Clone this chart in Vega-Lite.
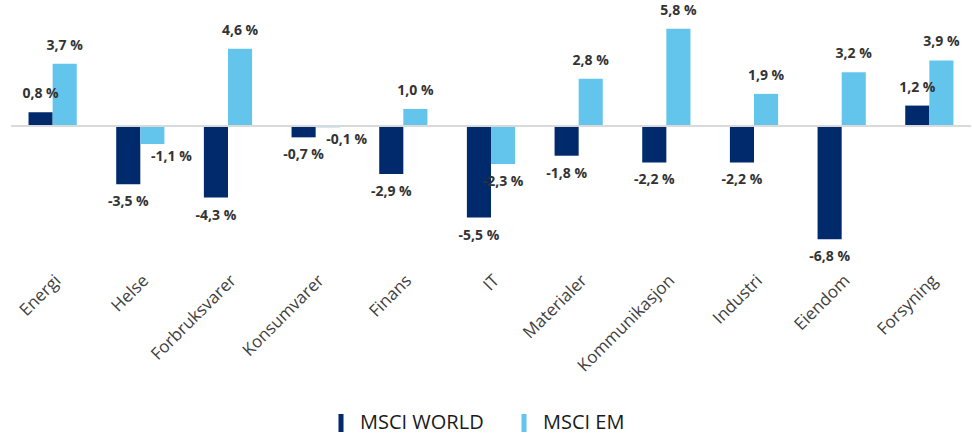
{
  "$schema": "https://vega.github.io/schema/vega-lite/v6.json",
  "autosize": "none",
  "width": 960,
  "height": 239,
  "padding": {"left": 11, "top": 17, "right": 1, "bottom": 180},
  "background": "white",
  "data": {
    "values": [
      {"sektor": "Energi", "serie": "MSCI WORLD", "verdi": 0.8},
      {"sektor": "Energi", "serie": "MSCI EM", "verdi": 3.7},
      {"sektor": "Helse", "serie": "MSCI WORLD", "verdi": -3.5},
      {"sektor": "Helse", "serie": "MSCI EM", "verdi": -1.1},
      {"sektor": "Forbruksvarer", "serie": "MSCI WORLD", "verdi": -4.3},
      {"sektor": "Forbruksvarer", "serie": "MSCI EM", "verdi": 4.6},
      {"sektor": "Konsumvarer", "serie": "MSCI WORLD", "verdi": -0.7},
      {"sektor": "Konsumvarer", "serie": "MSCI EM", "verdi": -0.1},
      {"sektor": "Finans", "serie": "MSCI WORLD", "verdi": -2.9},
      {"sektor": "Finans", "serie": "MSCI EM", "verdi": 1.0},
      {"sektor": "IT", "serie": "MSCI WORLD", "verdi": -5.5},
      {"sektor": "IT", "serie": "MSCI EM", "verdi": -2.3},
      {"sektor": "Materialer", "serie": "MSCI WORLD", "verdi": -1.8},
      {"sektor": "Materialer", "serie": "MSCI EM", "verdi": 2.8},
      {"sektor": "Kommunikasjon", "serie": "MSCI WORLD", "verdi": -2.2},
      {"sektor": "Kommunikasjon", "serie": "MSCI EM", "verdi": 5.8},
      {"sektor": "Industri", "serie": "MSCI WORLD", "verdi": -2.2},
      {"sektor": "Industri", "serie": "MSCI EM", "verdi": 1.9},
      {"sektor": "Eiendom", "serie": "MSCI WORLD", "verdi": -6.8},
      {"sektor": "Eiendom", "serie": "MSCI EM", "verdi": 3.2},
      {"sektor": "Forsyning", "serie": "MSCI WORLD", "verdi": 1.2},
      {"sektor": "Forsyning", "serie": "MSCI EM", "verdi": 3.9}
    ]
  },
  "transform": [
    {"calculate": "(datum.verdi < 0 ? '-' : '') + replace(format(abs(datum.verdi), '.1f'), '.', ',') + ' %'", "as": "etikett"}
  ],
  "encoding": {
    "x": {
      "field": "sektor",
      "type": "nominal",
      "sort": null,
      "scale": {"paddingInner": 0.45, "paddingOuter": 0.2},
      "axis": {
        "title": null,
        "labelAngle": -45,
        "labelFont": "Open Sans",
        "labelFontSize": 17,
        "labelColor": "#404040",
        "labelPadding": 16,
        "domain": false,
        "ticks": false
      }
    },
    "xOffset": {"field": "serie", "type": "nominal", "sort": ["MSCI WORLD", "MSCI EM"], "scale": {"paddingInner": 0, "paddingOuter": 0}},
    "y": {
      "field": "verdi",
      "type": "quantitative",
      "scale": {"domain": [-7.8, 6.5], "nice": false},
      "axis": null
    }
  },
  "layer": [
    {
      "mark": {"type": "bar"},
      "encoding": {
        "color": {
          "field": "serie",
          "type": "nominal",
          "sort": ["MSCI WORLD", "MSCI EM"],
          "scale": {"domain": ["MSCI WORLD", "MSCI EM"], "range": ["#002a6c", "#63c5ec"]},
          "legend": {
            "title": null,
            "orient": "none",
            "legendX": 320,
            "legendY": 396,
            "direction": "horizontal",
            "symbolType": "M-0.28,-1H0.28V1H-0.28Z",
            "symbolSize": 324,
            "symbolOpacity": 1,
            "symbolStrokeWidth": 0,
            "labelFont": "Open Sans",
            "labelFontSize": 20,
            "labelColor": "#1a1a1a",
            "columnPadding": 30,
            "symbolOffset": 0,
            "labelOffset": 9,
            "padding": 0
          }
        }
      }
    },
    {
      "mark": {"type": "rule", "color": "#d9d9d9", "strokeWidth": 1.5},
      "encoding": {"y": {"datum": 0}, "x": null, "xOffset": null}
    },
    {
      "transform": [{"filter": "datum.verdi >= 0"}],
      "mark": {"type": "text", "baseline": "bottom", "dy": -11, "font": "Open Sans", "fontWeight": "bold", "fontSize": 14, "color": "#333333"},
      "encoding": {"text": {"field": "etikett"}}
    },
    {
      "transform": [{"filter": "datum.verdi < 0 && !(datum.serie == 'MSCI EM' && datum.verdi > -2)"}],
      "mark": {"type": "text", "baseline": "top", "dy": 11, "font": "Open Sans", "fontWeight": "bold", "fontSize": 14, "color": "#333333"},
      "encoding": {"text": {"field": "etikett"}}
    },
    {
      "transform": [{"filter": "datum.serie == 'MSCI EM' && datum.verdi < 0 && datum.verdi > -2"}],
      "mark": {"type": "text", "baseline": "top", "dy": 6, "dx": 19, "font": "Open Sans", "fontWeight": "bold", "fontSize": 14, "color": "#333333"},
      "encoding": {"text": {"field": "etikett"}}
    }
  ],
  "config": {"view": {"stroke": null}}
}
